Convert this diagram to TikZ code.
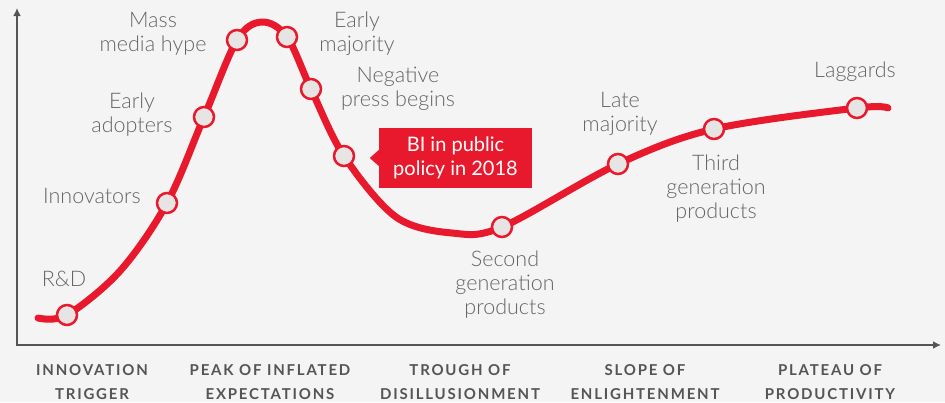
\documentclass[tikz,border=0pt]{standalone}
\usepackage{fontspec}
\setmainfont{Lato}
\newfontfamily\lightfont{Lato Light}
\newfontfamily\phasefont[LetterSpace=12]{Lato}
\usetikzlibrary{arrows.meta}
\definecolor{hypered}{HTML}{E8192C}
\definecolor{dotgray}{HTML}{E6E5E3}
\definecolor{labelgray}{HTML}{666666}
\definecolor{axisgray}{HTML}{555555}
\definecolor{bggray}{HTML}{F4F4F4}
\begin{document}
\begin{tikzpicture}[x=1pt,y=-1pt,
	dot/.style={circle,draw=hypered,fill=dotgray,line width=2.5pt,minimum size=20pt,inner sep=0pt},
	lbl/.style={text=labelgray,font=\lightfont\fontsize{21.5}{24}\selectfont,align=center},
	phase/.style={text=axisgray,font=\phasefont\bfseries\fontsize{15}{24}\selectfont,align=center}]
	\fill[bggray] (0,0) rectangle (945,402);
	\useasboundingbox (0,0) rectangle (945,402);
	% axes
	\coordinate (origin) at (17,345);
	\coordinate (ytop) at (17,8);
	\coordinate (xend) at (941,345);
	\draw[axisgray,line width=2.5pt,<->,>={Latex[length=8pt,width=8pt]}] (ytop) -- (origin) -- (xend);
	% hype curve
	\coordinate (start) at (38,318);
	\coordinate (rd) at (67,315);
	\coordinate (c1) at (120,271);
	\coordinate (inn) at (167,203);
	\coordinate (ead) at (204,117);
	\coordinate (mass) at (237,40);
	\coordinate (peak) at (262,22);
	\coordinate (emaj) at (287,37);
	\coordinate (neg) at (311,89);
	\coordinate (bip) at (344,156);
	\coordinate (c2) at (396,217);
	\coordinate (trough) at (452,233);
	\coordinate (sec) at (502,227);
	\coordinate (lmaj) at (618,164);
	\coordinate (third) at (714,129);
	\coordinate (lag) at (857,108);
	\coordinate (stop) at (888,108);
	\draw[hypered,line width=7pt,line cap=round] plot[smooth,tension=0.55] coordinates {(start) (rd) (c1) (inn) (ead) (mass) (peak) (emaj) (neg) (bip) (c2) (trough) (sec) (lmaj) (third) (lag) (stop)};
	\foreach \p in {rd,inn,ead,mass,emaj,neg,bip,sec,lmaj,third,lag}
		\node[dot] (\p-dot) at (\p) {};
	% labels
	\node[lbl] (rdtext) at (64,279) {R\&D};
	\node[lbl] (inntext) at (92,196) {Innovators};
	\node[lbl] (eadtext) at (132,115) {Early\\adopters};
	\node[lbl] (masstext) at (153,34) {Mass\\media hype};
	\node[lbl] (emajtext) at (357,34) {Early\\majority};
	\node[lbl] (negtext) at (398,89) {Negative\\press begins};
	\node[lbl] (sectext) at (505,285) {Second\\generation\\products};
	\node[lbl] (lmajtext) at (620,114) {Late\\majority};
	\node[lbl] (thirdtext) at (716,189) {Third\\generation\\products};
	\node[lbl] (lagtext) at (855,72) {Laggards};
	% callout
	\node[fill=hypered,text=white,font=\fontsize{20}{24}\selectfont,align=center,minimum width=153pt,minimum height=60pt,inner sep=0pt] (bi) at (455.5,158) {BI in public\\policy in 2018};
	\fill[hypered] ([yshift=8pt]bi.west) -- ([xshift=-9pt]bi.west) -- ([yshift=-8pt]bi.west) -- cycle;
	% phases
	\node[phase] (trigger) at (92,382) {INNOVATION\\TRIGGER};
	\node[phase] (peakph) at (270,382) {PEAK OF INFLATED\\EXPECTATIONS};
	\node[phase] (troughph) at (460,382) {TROUGH OF\\DISILLUSIONMENT};
	\node[phase] (slope) at (645,382) {SLOPE OF\\ENLIGHTENMENT};
	\node[phase] (plateau) at (830,382) {PLATEAU OF\\PRODUCTIVITY};
\end{tikzpicture}
\end{document}
